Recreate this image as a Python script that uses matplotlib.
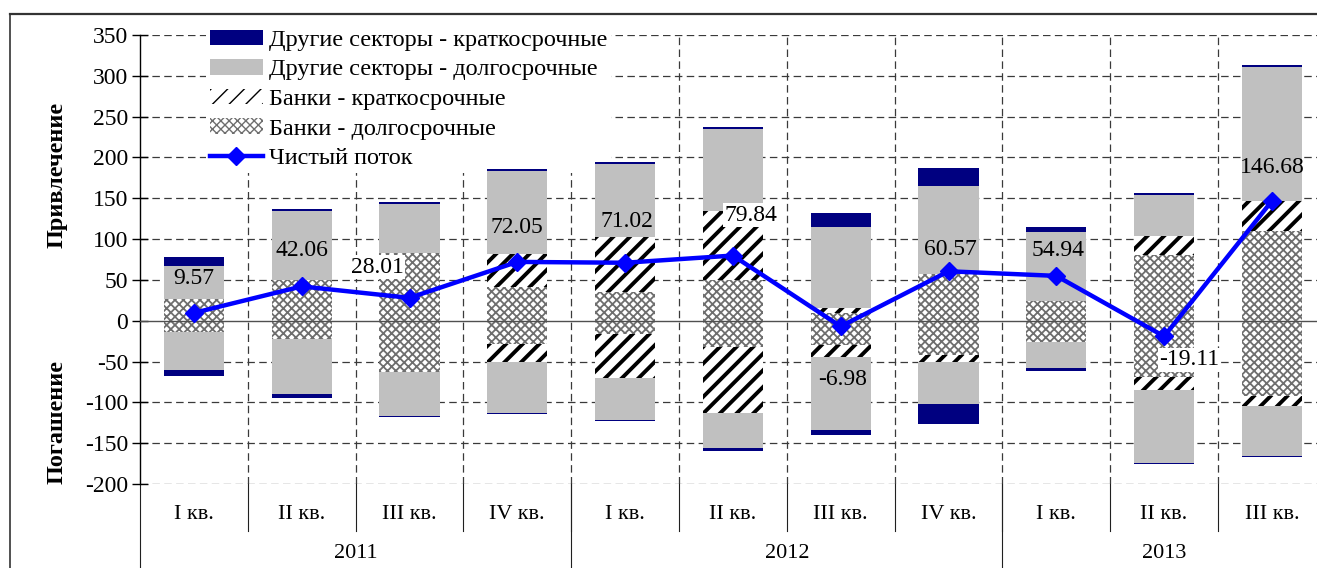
import matplotlib
matplotlib.use("Agg")
import matplotlib.pyplot as plt
from matplotlib.lines import Line2D
import numpy as np

plt.rcParams["font.family"] = ["Liberation Serif", "DejaVu Serif"]
plt.rcParams["font.size"] = 17
plt.rcParams["axes.unicode_minus"] = False

# --- data (млрд долл.) ---
quarters = ["I кв.", "II кв.", "III кв.", "IV кв.",
            "I кв.", "II кв.", "III кв.", "IV кв.",
            "I кв.", "II кв.", "III кв."]
years = ["2011", "2012", "2013"]
year_first_quarter = [0, 4, 8]

# Привлечение (positive side)
banks_long_in = [26.6, 50, 83, 41.3, 35, 50, 10, 57, 24.5, 81, 110]
banks_short_in = [0, 0, 0, 40.4, 68, 84, 5.5, 0, 0, 23, 37]
other_long_in = [40, 85, 60.5, 101.3, 88.5, 101, 99, 108, 83.7, 50, 164]
other_short_in = [11.5, 2, 2, 3, 3.5, 2.5, 17.5, 22.5, 6.6, 2.5, 2.4]

# Погашение (negative side)
banks_long_out = [-14.3, -22.5, -63, -28.6, -16, -32.7, -29.4, -41.7, -26, -69.5, -92.7]
banks_short_out = [0, 0, 0, -22.4, -54.7, -80.9, -15.6, -9.3, 0, -15.9, -11.3]
other_long_out = [-45.7, -67, -53.4, -62, -50.6, -42.4, -89.4, -50.7, -32, -89, -61.4]
other_short_out = [-8, -5.5, -1.6, -1, -2.1, -3, -5.3, -24.9, -3, -1.6, -2.1]

net_flow = [9.57, 42.06, 28.01, 72.05, 71.02, 79.84, -6.98, 60.57, 54.94, -19.11, 146.68]

# label offsets (points) relative to each line point
label_offsets = [(0, 25), (0, 26), (-23, 22), (0, 25), (1, 30), (13, 29),
                 (1, -38), (1, 16), (1, 18), (18, -17), (0, 24)]
boxed_labels = [2, 5, 9]

W, H = 1317, 568
fig = plt.figure(figsize=(W / 100, H / 100), dpi=100)
ax = fig.add_axes([140 / W, 84 / H, 11 * 107.8 / W, 449 / H])

x = np.arange(len(quarters))
bar_w = 0.56

styles = [
    dict(facecolor="white", edgecolor="#6e6e6e", hatch="xxxx", hlw=1.3),  # банки долгосрочные
    dict(facecolor="white", edgecolor="black", hatch="//", hlw=2.8),      # банки краткосрочные
    dict(facecolor="#C0C0C0", edgecolor="none", hatch=None, hlw=None),    # др. сектора долгосрочные
    dict(facecolor="#000080", edgecolor="none", hatch=None, hlw=None),    # др. сектора краткосрочные
]


def draw_stack(series_list):
    bottom = np.zeros(len(x))
    conts = []
    for vals, st in zip(series_list, styles):
        vals = np.array(vals, dtype=float)
        with plt.rc_context({"hatch.linewidth": st["hlw"] or 1.0}):
            bars = ax.bar(x, vals, bar_w, bottom=bottom, facecolor=st["facecolor"],
                          edgecolor=st["edgecolor"], linewidth=0, hatch=st["hatch"], zorder=2)
        if st["hlw"]:
            for p in bars:
                if hasattr(p, "set_hatch_linewidth"):
                    p.set_hatch_linewidth(st["hlw"])
        conts.append(bars)
        bottom = bottom + vals
    return conts


conts = draw_stack([banks_long_in, banks_short_in, other_long_in, other_short_in])
draw_stack([banks_long_out, banks_short_out, other_long_out, other_short_out])

line, = ax.plot(x, net_flow, color="#0000FF", lw=3.2, marker="D", markersize=9,
                zorder=5, label="Чистый поток")

for i, v in enumerate(net_flow):
    bbox = dict(facecolor="white", edgecolor="none", pad=1) if i in boxed_labels else None
    ax.annotate(f"{v:.2f}", (x[i], v), xytext=label_offsets[i], textcoords="offset points",
                ha="center", va="center", fontsize=17, zorder=6, bbox=bbox)

# grid
ax.set_ylim(-200, 350)
ax.set_xlim(-0.5, len(quarters) - 0.5)
ax.set_yticks(np.arange(-200, 351, 50))
dash = (0, (6, 3.5))
for yv in np.arange(-200, 351, 50):
    if yv != 0:
        ax.axhline(yv, color="#3a3a3a", lw=0.9, ls=dash, zorder=0.5)
for b in np.arange(0.5, len(quarters) - 0.5, 1):
    ax.axvline(b, color="#3a3a3a", lw=0.9, ls=dash, zorder=0.5)
ax.axhline(0, color="#505050", lw=1.0, zorder=3)

for s in ["top", "right", "bottom"]:
    ax.spines[s].set_visible(False)
ax.spines["left"].set_linewidth(1.0)
ax.set_xticks([])
ax.tick_params(axis="y", direction="inout", length=11, width=1, pad=3, labelsize=17)

# category labels (two levels)
tr = ax.get_xaxis_transform()
for i, q in enumerate(quarters):
    ax.text(x[i], -0.069, q, transform=tr, ha="center", va="center", fontsize=16)
for b in np.arange(0.5, len(quarters) - 0.5, 1):
    ax.plot([b, b], [0, -0.105], transform=tr, color="#202020", lw=0.8, clip_on=False)
for k, yr in enumerate(years):
    start = year_first_quarter[k]
    end = year_first_quarter[k + 1] if k + 1 < len(years) else len(quarters)
    ax.text((start + end - 1) / 2, -0.155, yr, transform=tr, ha="center", va="center", fontsize=16)
    ax.plot([start - 0.5, start - 0.5], [0, -0.2], transform=tr, color="#202020", lw=0.8,
            clip_on=False)

# axis titles
fig.text(57 / W, 1 - 175 / H, "Привлечение", rotation=90, ha="center", va="center",
         fontsize=17.5, fontweight="bold")
fig.text(57 / W, 1 - 422 / H, "Погашение", rotation=90, ha="center", va="center",
         fontsize=17.5, fontweight="bold")

# legend (white box hides the grid, bars stay on top of it)
handles = [conts[3], conts[2], conts[1], conts[0], line]
labels = ["Другие секторы - краткосрочные", "Другие секторы - долгосрочные",
          "Банки - краткосрочные", "Банки - долгосрочные", "Чистый поток"]
leg = ax.legend(handles, labels, loc="upper left", bbox_to_anchor=(206 / W, 1 - 26 / H),
                bbox_transform=fig.transFigure, frameon=True, fancybox=False,
                edgecolor="none", facecolor="white", framealpha=1, fontsize=17.5,
                handlelength=2.2, handleheight=0.6, handletextpad=0.25,
                labelspacing=0.34, borderpad=0.15, borderaxespad=0)
leg.set_zorder(1)

# outer frame of the embedded chart
fig.add_artist(Line2D([10 / W, 1], [1 - 14 / H, 1 - 14 / H], transform=fig.transFigure,
                      color="#333333", lw=1.6))
fig.add_artist(Line2D([10 / W, 10 / W], [0, 1 - 14 / H], transform=fig.transFigure,
                      color="#333333", lw=1.2))

fig.savefig("out.png", dpi=100)
